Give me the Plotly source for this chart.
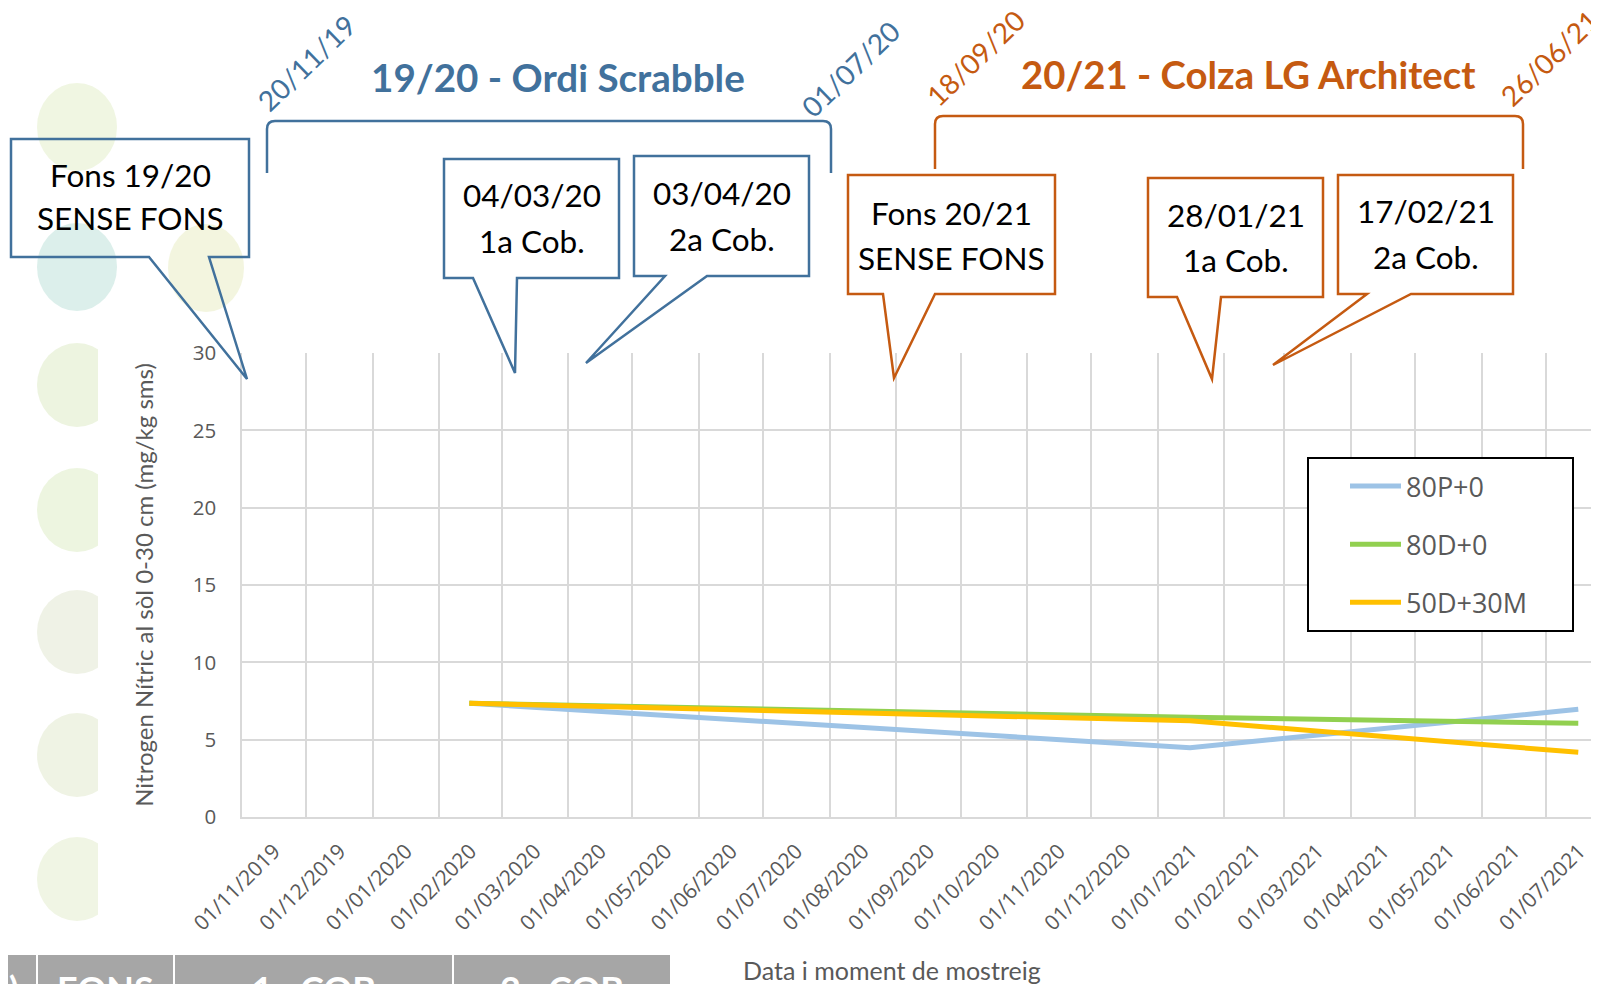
import plotly.graph_objects as go
import pandas as pd

# ---------------- data ----------------
sample_dates = ["2020-02-15", "2021-01-16", "2021-07-16"]
series_names = ["80P+0", "80D+0", "50D+30M"]
vals_80P = [7.35, 4.48, 6.96]
vals_80D = [7.35, 6.45, 6.06]
vals_50D = [7.35, 6.22, 4.18]
series_colors = ["#9DC3E6", "#92D050", "#FFC000"]

month_labels = ["01/11/2019", "01/12/2019", "01/01/2020", "01/02/2020", "01/03/2020",
                "01/04/2020", "01/05/2020", "01/06/2020", "01/07/2020", "01/08/2020",
                "01/09/2020", "01/10/2020", "01/11/2020", "01/12/2020", "01/01/2021",
                "01/02/2021", "01/03/2021", "01/04/2021", "01/05/2021", "01/06/2021",
                "01/07/2021"]
y_tickvals = [0, 5, 10, 15, 20, 25, 30]

y_title = "Nitrogen Nítric al sòl 0-30 cm (mg/kg sms)"
x_title = "Data i moment de mostreig"
season1_title = "19/20 - Ordi Scrabble"
season2_title = "20/21 - Colza LG Architect"
season1_dates = ["20/11/19", "01/07/20"]
season2_dates = ["18/09/20", "26/06/21"]
callout_texts = [("Fons 19/20", "SENSE FONS"), ("04/03/20", "1a Cob."), ("03/04/20", "2a Cob."),
                 ("Fons 20/21", "SENSE FONS"), ("28/01/21", "1a Cob."), ("17/02/21", "2a Cob.")]
table_cells = [")", "FONS", "1a COB", "2a COB"]

BLUE = "#41719C"
ORANGE = "#C55A11"
GRID = "#D9D9D9"
TXT = "#595959"
CAL = "Lato, 'Open Sans', sans-serif"
SEG = "'Open Sans', 'Noto Sans', sans-serif"

# ---------------- geometry helpers (page pixels -> paper) ----------------
OFF = 8                      # default page margin of the html body
PAGE_W, PAGE_H = 1599, 984
W, H = PAGE_W - OFF, PAGE_H - OFF
PL, PR, PT, PB = 242, 1599, 353, 817   # plot area in page pixels


def px(X):
    return (X - PL) / (PR - PL)


def py(Y):
    return (PB - Y) / (PB - PT)


month_starts = pd.to_datetime(month_labels, format="%d/%m/%Y")
month_mid = [s + (s + pd.offsets.MonthBegin(1) - s) / 2 for s in month_starts]

fig = go.Figure()
for name, vals, col in zip(series_names, [vals_80P, vals_80D, vals_50D], series_colors):
    fig.add_trace(go.Scatter(x=pd.to_datetime(sample_dates), y=vals, name=name, mode="lines",
                             line=dict(color=col, width=5), legendgroup=name))

shapes = []
annotations = []

# background blurred decorative circles (left margin)
circles = [(77, 127, 40, 44, "rgba(222,234,190,0.45)"),
           (77, 267, 40, 44, "rgba(168,214,204,0.40)"),
           (206, 268, 38, 44, "rgba(232,236,192,0.50)"),
           (77, 385, 40, 42, "rgba(216,230,186,0.45)"),
           (77, 510, 40, 42, "rgba(216,232,186,0.45)"),
           (77, 632, 40, 42, "rgba(220,226,200,0.45)"),
           (77, 755, 40, 42, "rgba(220,228,196,0.45)"),
           (77, 879, 40, 42, "rgba(222,232,196,0.45)")]
for cx, cy, rx, ry, colr in circles:
    shapes.append(dict(type="circle", xref="paper", yref="paper", layer="below",
                       x0=px(cx - rx), x1=px(cx + rx), y0=py(cy + ry), y1=py(cy - ry),
                       fillcolor=colr, line=dict(width=0)))
shapes.append(dict(type="rect", xref="paper", yref="paper", layer="below",
                   x0=px(98), x1=px(238), y0=py(945), y1=py(338),
                   fillcolor="white", line=dict(width=0)))


# brackets
def bracket(x0, x1, yt, yb, color):
    r = 8
    path = (f"M{px(x0)},{py(yb)} L{px(x0)},{py(yt + r)} Q{px(x0)},{py(yt)} {px(x0 + r)},{py(yt)} "
            f"L{px(x1 - r)},{py(yt)} Q{px(x1)},{py(yt)} {px(x1)},{py(yt + r)} L{px(x1)},{py(yb)}")
    return dict(type="path", xref="paper", yref="paper", path=path, layer="above",
                line=dict(color=color, width=2.5))


shapes.append(bracket(267, 831, 121, 173, BLUE))
shapes.append(bracket(935, 1523, 116, 169, ORANGE))

# callouts: (left, top, right, bottom, base1, base2, tip, color, line1_y, line2_y)
callouts = [(11, 139, 249, 257, 149, 209, (247, 379), BLUE, 176, 219),
            (444, 159, 619, 278, 473, 517, (515, 373), BLUE, 196, 242),
            (634, 156, 809, 276, 665, 707, (586, 363), BLUE, 194, 240),
            (848, 175, 1055, 294, 883, 935, (894, 378), ORANGE, 214, 259),
            (1148, 178, 1323, 297, 1177, 1221, (1212, 379), ORANGE, 216, 261),
            (1338, 175, 1513, 294, 1367, 1411, (1273, 365), ORANGE, 212, 258)]
for (l, t, r, b, b1, b2, tip, colr, y1, y2), (t1, t2) in zip(callouts, callout_texts):
    path = (f"M{px(l)},{py(t)} L{px(r)},{py(t)} L{px(r)},{py(b)} L{px(b2)},{py(b)} "
            f"L{px(tip[0])},{py(tip[1])} L{px(b1)},{py(b)} L{px(l)},{py(b)} Z")
    shapes.append(dict(type="path", xref="paper", yref="paper", path=path, layer="above",
                       line=dict(color=colr, width=2.5)))
    cxm = (l + r) / 2
    for txt, yy in ((t1, y1), (t2, y2)):
        annotations.append(dict(text=txt, xref="paper", yref="paper", x=px(cxm), y=py(yy - 1),
                                xanchor="center", yanchor="middle", showarrow=False,
                                font=dict(family=CAL, size=31.5, color="black")))

# season titles
annotations.append(dict(text=f"<b>{season1_title}</b>", xref="paper", yref="paper", x=px(558), y=py(77),
                        xanchor="center", yanchor="middle", showarrow=False,
                        font=dict(family=CAL, size=38.6, color=BLUE)))
annotations.append(dict(text=f"<b>{season2_title}</b>", xref="paper", yref="paper", x=px(1248), y=py(74),
                        xanchor="center", yanchor="middle", showarrow=False,
                        font=dict(family=CAL, size=38.3, color=ORANGE)))
for txt, (cx, cy), colr in zip(season1_dates + season2_dates,
                               [(306, 63), (850, 69), (975, 58), (1549, 58)],
                               [BLUE, BLUE, ORANGE, ORANGE]):
    annotations.append(dict(text=txt, xref="paper", yref="paper", x=px(cx), y=py(cy),
                            xanchor="center", yanchor="middle", showarrow=False, textangle=-44,
                            font=dict(family=CAL, size=28, color=colr)))

# x axis title
annotations.append(dict(text=x_title, xref="paper", yref="paper", x=px(892), y=py(970),
                        xanchor="center", yanchor="middle", showarrow=False,
                        font=dict(family=CAL, size=25, color=TXT)))

# legend frame
shapes.append(dict(type="rect", xref="paper", yref="paper", layer="above",
                   x0=px(1308), x1=px(1573), y0=py(631), y1=py(458),
                   fillcolor="white", line=dict(color="black", width=2)))

# bottom table header (cut off)
for (x0, x1), txt in zip([(0, 36), (38, 173), (175, 452), (454, 670)], table_cells):
    shapes.append(dict(type="rect", xref="paper", yref="paper", layer="above",
                       x0=px(max(x0, OFF)), x1=px(x1), y0=py(1000), y1=py(955),
                       fillcolor="#A6A6A6", line=dict(width=0)))
    annotations.append(dict(text=f"<b>{txt}</b>", xref="paper", yref="paper",
                            x=px((x0 + x1) / 2 if txt != ")" else 14), y=py(965),
                            xanchor="center", yanchor="top", showarrow=False,
                            font=dict(family=CAL, size=36, color="white")))

fig.update_layout(
    width=W, height=H, autosize=False,
    margin=dict(l=PL - OFF, r=PAGE_W - PR, t=PT - OFF, b=PAGE_H - PB, pad=0),
    paper_bgcolor="white", plot_bgcolor="white",
    shapes=shapes, annotations=annotations,
    showlegend=True,
    legend=dict(x=px(1345), y=py(462), xanchor="left", yanchor="top",
                bgcolor="rgba(0,0,0,0)", borderwidth=0, tracegroupgap=20, itemwidth=51,
                font=dict(family=SEG, size=27, color=TXT)),
    xaxis=dict(type="date", range=["2019-11-01", "2021-07-25 16:00"],
               tickmode="array", tickvals=month_mid, ticktext=month_labels,
               tickangle=-45, ticks="outside", ticklen=12, tickcolor="rgba(0,0,0,0)",
               tickfont=dict(family=SEG, size=21, color=TXT),
               showgrid=False, showline=True, linecolor=GRID, linewidth=1.5, zeroline=False,
               minor=dict(tickmode="array", tickvals=list(month_starts), showgrid=True,
                          gridcolor=GRID, gridwidth=1.5, ticks=""),
               automargin=False, fixedrange=True),
    yaxis=dict(range=[0, 30], tickmode="array", tickvals=y_tickvals,
               ticks="outside", ticklen=20, tickcolor="rgba(0,0,0,0)",
               tickfont=dict(family=SEG, size=20.5, color=TXT),
               showgrid=True, gridcolor=GRID, gridwidth=1.5, zeroline=False,
               showline=True, linecolor=GRID, linewidth=1.5,
               title=dict(text=y_title, standoff=32, font=dict(family=CAL, size=24, color=TXT)),
               automargin=False, fixedrange=True),
)

fig.write_html("out.html")
